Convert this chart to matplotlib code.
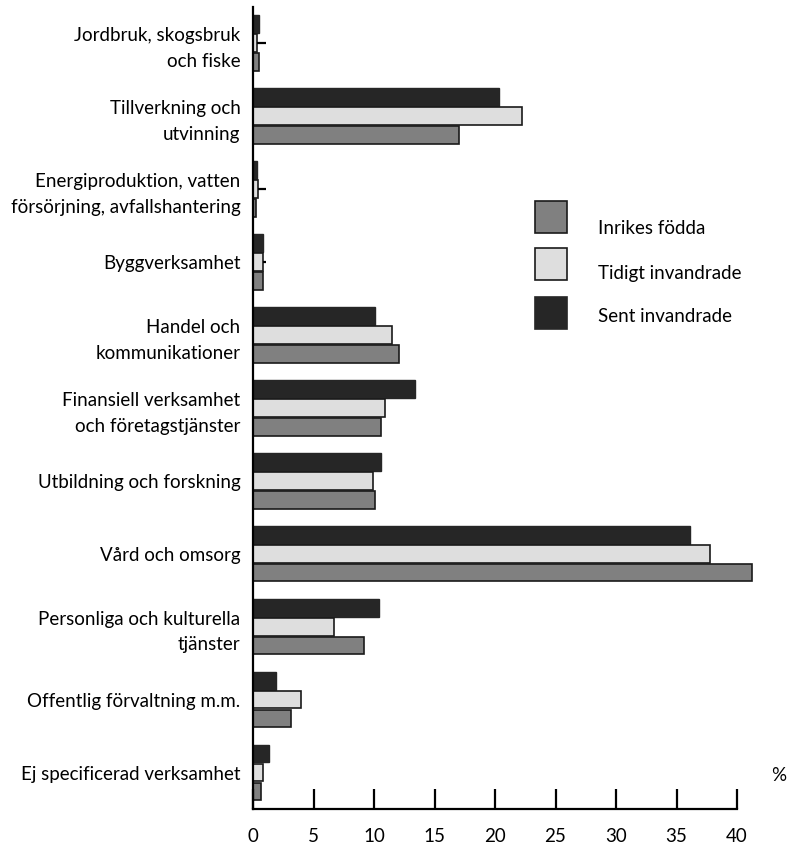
import matplotlib
matplotlib.use("Agg")
import matplotlib.pyplot as plt
from matplotlib.patches import Rectangle
import numpy as np

plt.rcParams['font.family'] = ['Lato', 'DejaVu Sans']

categories = [
    "Jordbruk, skogsbruk\noch fiske",
    "Tillverkning och\nutvinning",
    "Energiproduktion, vatten\nförsörjning, avfallshantering",
    "Byggverksamhet",
    "Handel och\nkommunikationer",
    "Finansiell verksamhet\noch företagstjänster",
    "Utbildning och forskning",
    "Vård och omsorg",
    "Personliga och kulturella\ntjänster",
    "Offentlig förvaltning m.m.",
    "Ej specificerad verksamhet",
]
series = ["Inrikes födda", "Tidigt invandrade", "Sent invandrade"]

inrikes = [0.5, 17.0, 0.27, 0.85, 12.1, 10.6, 10.05, 41.2, 9.2, 3.1, 0.7]
tidigt = [0.3, 22.2, 0.45, 0.85, 11.5, 10.9, 9.9, 37.8, 6.7, 4.0, 0.8]
sent = [0.5, 20.3, 0.33, 0.85, 10.05, 13.4, 10.6, 36.1, 10.4, 1.9, 1.3]
tidigt_err = [0.8, 0, 0.6, 0.2, 0, 0, 0, 0, 0, 0, 0]

colors = {"Inrikes födda": "#808080", "Tidigt invandrade": "#dedede", "Sent invandrade": "#262626"}
edges = {"Inrikes födda": "#1a1a1a", "Tidigt invandrade": "#1a1a1a", "Sent invandrade": "#262626"}
fs = 13.5

fig = plt.figure(figsize=(7.88, 8.46), dpi=100)
ax = fig.add_axes([253/788, 1 - 809/846, (737-253)/788, (809-7)/846])

y = np.arange(len(categories))
step = 0.26
h = 0.245

ax.barh(y - step, sent, height=h, color=colors[series[2]], edgecolor=edges[series[2]],
        linewidth=1.0, clip_on=False)
ax.barh(y, tidigt, height=h, color=colors[series[1]], edgecolor=edges[series[1]],
        linewidth=1.2, clip_on=False)
ax.barh(y + step, inrikes, height=h, color=colors[series[0]], edgecolor=edges[series[0]],
        linewidth=1.2, clip_on=False)

err = np.array(tidigt_err)
ax.errorbar(tidigt, y, xerr=[np.zeros_like(err), err], fmt='none', ecolor='black',
            elinewidth=1.6, capsize=0)

ax.set_xlim(0, 40)
ax.set_ylim(10.5, -0.49)

ax.spines['top'].set_visible(False)
ax.spines['right'].set_visible(False)
ax.spines['left'].set_linewidth(1.6)
ax.spines['bottom'].set_linewidth(1.6)

ax.set_xticks(np.arange(0, 41, 5))
ax.tick_params(axis='x', direction='in', length=14.5, width=1.6, pad=14, labelsize=fs)
ax.set_yticks(y)
ax.set_yticklabels(categories)
ax.tick_params(axis='y', length=0, pad=9, labelsize=fs)
for t in ax.get_yticklabels():
    t.set_linespacing(1.6)
    t.set_horizontalalignment('right')

ax.text(1.087, 0.042, "%", transform=ax.transAxes, ha='center', va='center', fontsize=fs)

# legend drawn by hand
px_w = 737 - 253
px_h = 809 - 7
patch_tops = [201, 248, 297]
text_ys = [229, 273, 317]
for s, top, ty in zip(series, patch_tops, text_ys):
    ax.add_patch(Rectangle(((535 - 253) / px_w, (809 - top - 32) / px_h), 32 / px_w, 32 / px_h,
                           transform=ax.transAxes, facecolor=colors[s], edgecolor=edges[s],
                           linewidth=1.2, clip_on=False))
    ax.text((598 - 253) / px_w, (809 - ty) / px_h, s, transform=ax.transAxes,
            ha='left', va='center', fontsize=fs)

fig.savefig("out.png", dpi=100)
